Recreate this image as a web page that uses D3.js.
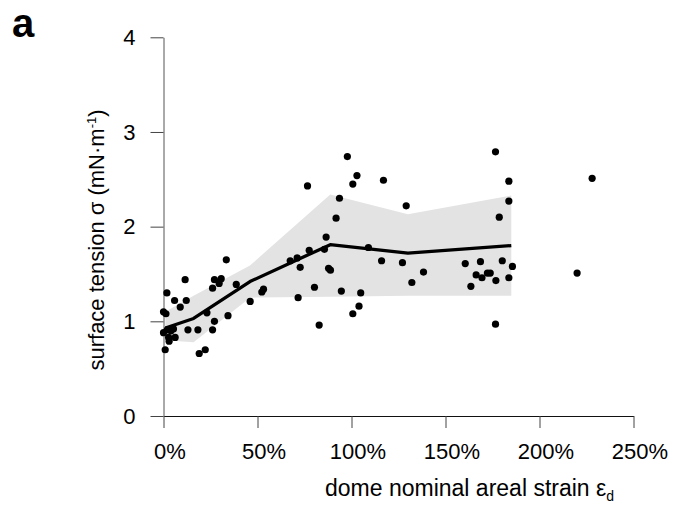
<!DOCTYPE html>
<html>
<head>
<meta charset="utf-8">
<script src="https://d3js.org/d3.v7.min.js"></script>
<style>
  body { margin: 0; background: #fff; }
  text { font-family: "Liberation Sans", Arial, sans-serif; }
</style>
</head>
<body>
<div id="chart"></div>
<script>

// scatter points: strain (%) and surface tension (mN/m)
var strainPts = [0, 2, 2.7, 4, 5.3, 6.2, 3, 0.9, 1.8, 5.9, 11.5, 12.1, 8.9, 0, 1.3,
  13, 18.3, 19, 22.2, 23.1, 27.1, 26.1, 26.1, 27.1, 30.7, 29.6, 33.4, 34.3, 38.7,
  46.1, 52.3, 53.2, 67.4, 71.1, 72.7, 71.6, 76.6, 77.5, 80.3, 82.8, 85.6, 86.5,
  87.8, 88.8, 91.8, 93.6, 94.6, 97.8, 100.7, 102.9, 100.7, 104, 104.9, 109, 116,
  117, 127.1, 129.1, 132.1, 138.3, 160.5, 163.5, 166.3, 168.6, 169.4, 172.3, 173.8,
  176.8, 176.6, 176.6, 178.6, 180.2, 183.7, 183.7, 183.7, 185.6, 220, 228];
var tensionPts = [0.88, 0.91, 0.83, 0.90, 0.92, 0.83, 0.79, 0.70, 1.30, 1.22, 1.44, 1.22, 1.15, 1.10, 1.08,
  0.91, 0.91, 0.66, 0.70, 1.09, 1.00, 0.91, 1.35, 1.44, 1.45, 1.40, 1.65, 1.06, 1.39,
  1.21, 1.31, 1.34, 1.64, 1.67, 1.57, 1.25, 2.43, 1.75, 1.36, 0.96, 1.76, 1.89,
  1.56, 1.54, 2.09, 2.30, 1.32, 2.74, 2.45, 2.54, 1.08, 1.16, 1.30, 1.78, 1.64,
  2.49, 1.62, 2.22, 1.41, 1.52, 1.61, 1.37, 1.49, 1.63, 1.46, 1.51, 1.51,
  1.43, 2.79, 0.97, 2.10, 1.64, 2.48, 2.27, 1.46, 1.58, 1.51, 2.51];

// binned mean line and its shaded range
var lineStrain  = [1, 16, 46, 88.7, 130, 185];
var lineTension = [0.93, 1.03, 1.42, 1.81, 1.72, 1.80];
var bandLower   = [0.80, 0.78, 1.25, 1.26, 1.27, 1.27];
var bandUpper   = [1.10, 1.27, 1.59, 2.34, 2.13, 2.33];

var xTicks = [0, 50, 100, 150, 200, 250];
var yTicks = [0, 1, 2, 3, 4];

var width = 677, height = 509;
var svg = d3.select("#chart")
  .append("svg")
    .attr("width", width)
    .attr("height", height);

var x = d3.scaleLinear().domain([0, 250]).range([163.5, 633.5]);
var y = d3.scaleLinear().domain([0, 4]).range([416, 37.3]);

// shaded band
var band = lineStrain.map(function(d, i) { return {x: d, lo: bandLower[i], hi: bandUpper[i]}; });
svg.append("path")
  .datum(band)
  .attr("fill", "#e3e3e3")
  .attr("d", d3.area()
    .x(function(d) { return x(d.x); })
    .y0(function(d) { return y(d.lo); })
    .y1(function(d) { return y(d.hi); }));

// X axis
var xAxis = svg.append("g")
  .attr("transform", "translate(0," + y(0) + ")")
  .call(d3.axisBottom(x).tickValues(xTicks).tickSize(12).tickSizeOuter(0)
    .tickFormat(function(d) { return d + "%"; }));
xAxis.select(".domain").attr("stroke", "#111");
xAxis.selectAll(".tick line").attr("stroke", "#444");
xAxis.selectAll("text")
  .attr("x", 6)
  .attr("y", 27)
  .attr("dy", "0.71em")
  .attr("fill", "#000")
  .style("font-size", "22px");

// Y axis
var yAxis = svg.append("g")
  .attr("transform", "translate(" + x(0) + ",0)")
  .call(d3.axisLeft(y).tickValues(yTicks).tickSize(13).tickSizeOuter(0)
    .tickFormat(d3.format("d")));
yAxis.select(".domain").attr("stroke", "#555");
yAxis.selectAll(".tick line").attr("stroke", "#444");
yAxis.selectAll("text")
  .attr("x", -28)
  .attr("fill", "#000")
  .style("font-size", "22px");

// points
svg.selectAll("circle.pt")
  .data(strainPts)
  .enter()
  .append("circle")
    .attr("class", "pt")
    .attr("cx", function(d) { return x(d); })
    .attr("cy", function(d, i) { return y(tensionPts[i]); })
    .attr("r", 3.6)
    .attr("fill", "#000");

// mean line
svg.append("path")
  .datum(lineStrain)
  .attr("fill", "none")
  .attr("stroke", "#000")
  .attr("stroke-width", 3.3)
  .attr("stroke-linejoin", "round")
  .attr("d", d3.line()
    .x(function(d) { return x(d); })
    .y(function(d, i) { return y(lineTension[i]); }));

// axis names
var xl = svg.append("text")
  .attr("x", 325)
  .attr("y", 496)
  .style("font-size", "23px")
  .text("dome nominal areal strain ε");
xl.append("tspan")
  .attr("dy", 5)
  .style("font-size", "14px")
  .text("d");

var yl = svg.append("text")
  .attr("text-anchor", "middle")
  .attr("transform", "translate(104,240) rotate(-90)")
  .style("font-size", "22px")
  .text("surface tension σ (mN·m");
yl.append("tspan")
  .attr("dy", -8)
  .style("font-size", "13px")
  .text("-1");
yl.append("tspan")
  .attr("dy", 8)
  .text(")");

// panel letter
svg.append("text")
  .attr("x", 12)
  .attr("y", 37)
  .style("font-size", "40px")
  .style("font-weight", "bold")
  .text("a");

</script>
</body>
</html>
